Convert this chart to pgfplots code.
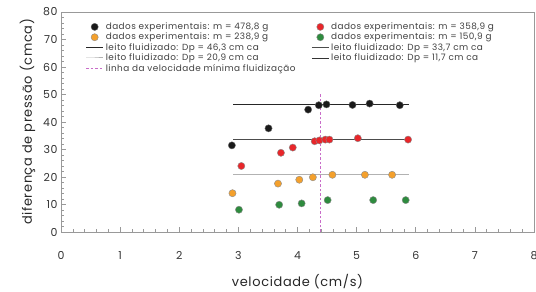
\documentclass[border=0pt]{standalone}
\usepackage{pgfplots}
\pgfplotsset{compat=1.18}
\usepackage{fontspec}
\setmainfont{Poppins}[LetterSpace=5]
\definecolor{cblack}{HTML}{1A1A1A}
\definecolor{cred}{HTML}{E8262A}
\definecolor{corange}{HTML}{F4A02C}
\definecolor{cgreen}{HTML}{2E8B3E}
\definecolor{cmag}{HTML}{C86CC8}
\definecolor{frame}{HTML}{999999}
\begin{document}
\begin{tikzpicture}
\begin{axis}[
  name=ax,
  scale only axis, width=473bp, height=220bp,
  xmin=0, xmax=8, ymin=0, ymax=80,
  xtick={0,1,...,8}, ytick={0,10,...,80},
  minor x tick num=4, minor y tick num=4,
  tick align=inside, xtick pos=bottom, ytick pos=left,
  major tick length=5bp, minor tick length=3bp,
  axis line style={frame, line width=0.8pt},
  every tick/.style={frame, line width=0.6pt},
  /pgf/number format/assume math mode=true,
  ticklabel style={font=\fontsize{11}{12}\selectfont, text=black!80},
  xticklabel style={yshift=-16bp},
  label style={font=\fontsize{13}{14}\selectfont, text=black!85},
  xlabel={velocidade (cm/s)}, ylabel={diferença de pressão (cmca)},
  xlabel style={yshift=-8bp},
  ylabel style={yshift=1bp},
  legend columns=2,
  legend cell align=left,
  legend style={draw=none, fill=none, at={(axis description cs:0.045,0.97)}, anchor=north west,
    font=\fontsize{8.9}{9}\selectfont, text=black!75, row sep=-1.9bp,
    nodes={inner ysep=2bp},
    /tikz/every even column/.append style={column sep=14bp}},
  every axis plot/.append style={mark size=3.6bp},
]
\addplot[only marks, mark=*, draw=black!60, fill=cblack] coordinates {
(2.89,31.5) (3.51,37.7) (4.18,44.5) (4.36,46.1) (4.49,46.4) (4.93,46.2) (5.22,46.7) (5.73,46.1)};
\addlegendentry{dados experimentais: m = 478,8 g}
\addplot[only marks, mark=*, draw=black!45, fill=cred] coordinates {
(3.05,24.0) (3.72,28.8) (3.92,30.7) (4.29,33.0) (4.37,33.3) (4.47,33.6) (4.54,33.6) (5.02,34.1) (5.87,33.6)};
\addlegendentry{dados experimentais: m = 358,9 g}
\addplot[only marks, mark=*, draw=black!45, fill=corange] coordinates {
(2.90,14.1) (3.67,17.6) (4.03,19.0) (4.26,19.9) (4.59,20.8) (5.14,20.8) (5.60,20.8)};
\addlegendentry{dados experimentais: m = 238,9 g}
\addplot[only marks, mark=*, draw=black!45, fill=cgreen] coordinates {
(3.01,8.1) (3.69,9.9) (4.07,10.4) (4.51,11.6) (5.28,11.6) (5.83,11.6)};
\addlegendentry{dados experimentais: m = 150,9 g}
\addplot[black!85, line width=0.9pt, no marks] coordinates {(2.91,46.3) (5.88,46.3)};
\addlegendentry{leito fluidizado: Dp = 46,3 cm ca}
\addplot[black!70, line width=0.6pt, no marks] coordinates {(2.91,33.7) (5.88,33.7)};
\addlegendentry{leito fluidizado: Dp = 33,7 cm ca}
\addplot[black!30, line width=1.0pt, no marks] coordinates {(2.91,20.9) (5.88,20.9)};
\addlegendentry{leito fluidizado: Dp = 20,9 cm ca}
\addlegendimage{black!80, line width=0.6pt}
\addlegendentry{leito fluidizado: Dp = 11,7 cm ca}
\addplot[cmag, line width=1.4pt, dash pattern=on 2.5bp off 2bp, no marks] coordinates {(4.39,0) (4.39,50)};
\addlegendentry{linha da velocidade mínima fluidização}
\end{axis}
\pgfresetboundingbox
\path (ax.south west) ++(-61bp,-60bp) coordinate (bl);
\path (ax.north east) ++(2bp,12bp) coordinate (tr);
\useasboundingbox (bl) rectangle (tr);
\end{tikzpicture}
\end{document}
